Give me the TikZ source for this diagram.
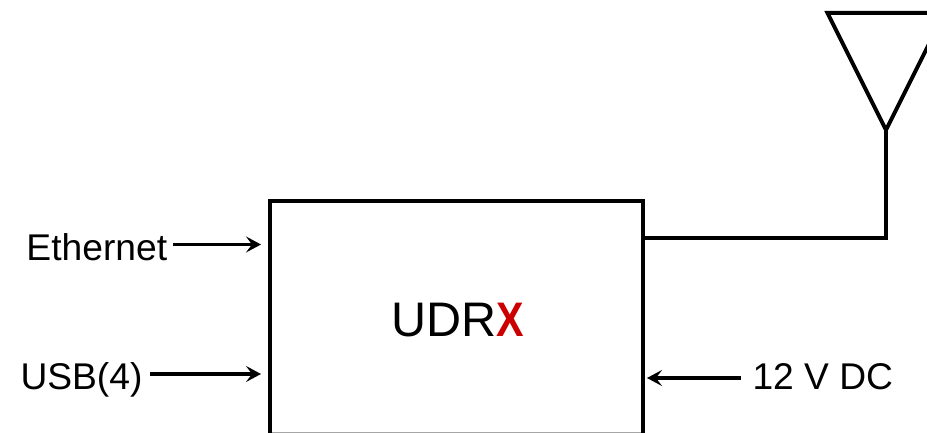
\documentclass[tikz,border=0pt]{standalone}
\usepackage{fontspec}
\setmainfont{Liberation Sans}
\usetikzlibrary{arrows.meta}
\definecolor{xred}{RGB}{204,0,0}
\tikzset{
  x=1pt,y=1pt,
  lbl/.style={inner sep=0pt,outer sep=0pt,font=\fontsize{37.2}{40}\selectfont,text=black},
  wire/.style={line width=4pt,black,line join=miter},
  feed/.style={line width=3.6pt,black,-{Stealth[length=15pt,width=16pt,inset=6pt]},shorten >=0pt},
}
\begin{document}
\begin{tikzpicture}
\useasboundingbox (0,0) rectangle (927,433);
\clip (0,0) rectangle (927,433);
\fill[white] (0,0) rectangle (927,433);
% box (its lower edge lies on the picture's edge)
\coordinate (bl) at (270.3,0);
\coordinate (tl) at (270.3,231.5);
\coordinate (tr) at (642.5,231.5);
\coordinate (br) at (642.5,0);
\draw[gray!70,line width=1pt] (270.3,0.7) -- (642.5,0.7);
\draw[wire] (bl) -- (tl) -- (tr) -- (br);
\node[lbl,anchor=base,font=\fontsize{48.5}{52}\selectfont] (udr) at (458,96.3) {UDR\textcolor{xred}{\scalebox{0.85}[1]{\bfseries X}}};
% inputs
\node[lbl,anchor=base west] (eth) at (26.5,172.3) {Ethernet};
\node[lbl,anchor=base west] (usb) at (20.5,43) {USB(4)};
\node[lbl,anchor=base west] (dc) at (752.5,43) {12 V DC};
\coordinate (ethend) at (261,188.5);
\coordinate (ethstart) at (173,188.5);
\coordinate (usbend) at (261,59);
\coordinate (usbstart) at (150,59);
\coordinate (dcend) at (647,55);
\coordinate (dcstart) at (741,55);
\draw[feed] (ethstart) -- (ethend);
\draw[feed] (usbstart) -- (usbend);
\draw[feed] (dcstart) -- (dcend);
% antenna
\coordinate (apex) at (886,303);
\coordinate (feedpt) at (642.5,195);
\coordinate (corner) at (886,195);
\draw[wire] (feedpt) -- (corner) -- (apex);
\draw[wire] (apex) -- (827.5,420) -- (944.5,420) -- cycle;
\end{tikzpicture}
\end{document}
